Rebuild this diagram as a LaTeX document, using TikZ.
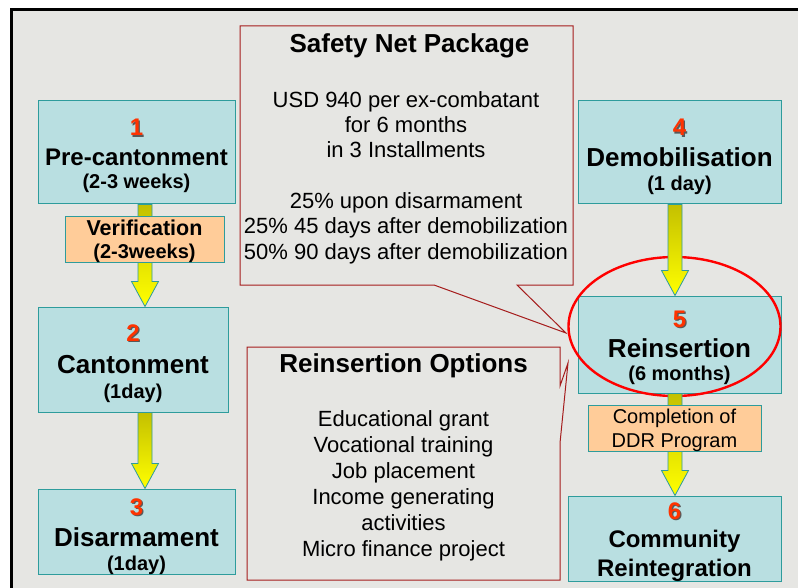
\documentclass[tikz,border=0pt]{standalone}
\usepackage{fontspec}
\setmainfont{Liberation Sans}
\usetikzlibrary{calc}
\definecolor{bggray}{HTML}{E6E6E3}
\definecolor{boxfill}{HTML}{B9DFE1}
\definecolor{boxline}{HTML}{2E9C9C}
\definecolor{peach}{HTML}{FFCC99}
\definecolor{callred}{HTML}{A51C1C}
\definecolor{numred}{HTML}{FF3300}
\definecolor{arrolive}{HTML}{C4C000}
\definecolor{arryellow}{HTML}{FFFF00}
\newcommand\fNum{\fontsize{24}{24}\bfseries\selectfont}
\newcommand\fBig{\fontsize{26}{26}\bfseries\selectfont}
\newcommand\fMid{\fontsize{24}{24}\bfseries\selectfont}
\newcommand\fSub{\fontsize{20}{20}\bfseries\selectfont}
\newcommand\fVer{\fontsize{21.5}{21.5}\bfseries\selectfont}
\newcommand\fNote{\fontsize{20}{20}\selectfont}
\newcommand\fHead{\fontsize{26}{26}\bfseries\selectfont}
\newcommand\fBody{\fontsize{22}{22}\selectfont}
\newcommand\stnum[1]{\makebox[0pt][l]{\hspace{1.2pt}\raisebox{-1.2pt}{\textcolor{black!65}{#1}}}\textcolor{numred}{#1}}
\newcommand\fatarrow[3]{%
  \path[arrowshape] let \p1=(#2.south), \p2=(#3.north) in
    (#1pt-7pt,\y1) -- (#1pt+7pt,\y1) -- (#1pt+7pt,\y2+25pt) -- (#1pt+13.5pt,\y2+25pt)
    -- (#1pt,\y2) -- (#1pt-13.5pt,\y2+25pt) -- (#1pt-7pt,\y2+25pt) -- cycle;}
\begin{document}
\begin{tikzpicture}[x=1pt,y=-1pt,
  stagebox/.style={draw=boxline, fill=boxfill, line width=1pt, rectangle, inner sep=0pt},
  notebox/.style={draw=boxline, fill=peach, line width=1pt, rectangle, inner sep=0pt},
  lbl/.style={anchor=base, inner sep=0pt, text=black},
  callout/.style={draw=callred, line width=1pt, line join=miter},
  arrowshape/.style={draw=boxline, line width=0.8pt, top color=arrolive, bottom color=arryellow},
  ring/.style={draw=red, line width=2.4pt}]
\useasboundingbox (0,0) rectangle (798,588);
\fill[white] (0,0) rectangle (798,588);
\fill[bggray] (10,8) rectangle (798,588);
\draw[line width=3pt] (11.5,588) -- (11.5,9.5) -- (798,9.5);

% callouts
\coordinate (tipA) at (566,333);
\coordinate (tipB) at (568,363);
\draw[callout] (240,26) -- (573,26) -- (573,285) -- (517,285) -- (tipA) -- (434,285) -- (240,285) -- cycle;
\draw[callout] (247,347) -- (560,347) -- (560,386) -- (tipB) -- (560,443) -- (560,580) -- (247,580) -- cycle;

\node[lbl] (sn0) at (409.5,53) {\fHead Safety Net Package};
\node[lbl] (sn1) at (406,107.3) {\fBody USD 940 per ex-combatant};
\node[lbl] (sn2) at (406,132.5) {\fBody for 6 months};
\node[lbl] (sn3) at (406,157.5) {\fBody in 3 Installments};
\node[lbl] (sn4) at (406,208.5) {\fBody 25\% upon disarmament};
\node[lbl] (sn5) at (406,234) {\fBody 25\% 45 days after demobilization};
\node[lbl] (sn6) at (406,259.5) {\fBody 50\% 90 days after demobilization};

\node[lbl] (ro0) at (403.5,372) {\fHead Reinsertion Options};
\node[lbl] (ro1) at (403.5,426) {\fBody Educational grant};
\node[lbl] (ro2) at (403.5,452) {\fBody Vocational training};
\node[lbl] (ro3) at (403.5,478) {\fBody Job placement};
\node[lbl] (ro4) at (403.5,504) {\fBody Income generating};
\node[lbl] (ro5) at (403.5,530) {\fBody activities};
\node[lbl] (ro6) at (403.5,556) {\fBody Micro finance project};

% stage boxes
\node[stagebox, minimum width=197pt, minimum height=103pt] (b1) at (136.5,152.5) {};
\node[stagebox, minimum width=190pt, minimum height=105pt] (b2) at (133,359.5) {};
\node[stagebox, minimum width=197pt, minimum height=85pt]  (b3) at (136.5,531.5) {};
\node[stagebox, minimum width=203pt, minimum height=103pt] (b4) at (679.5,152.5) {};
\node[stagebox, minimum width=203pt, minimum height=97pt]  (b5) at (679.5,344.5) {};
\node[stagebox, minimum width=213pt, minimum height=85pt]  (b6) at (674.5,538.5) {};

\node[lbl] at (136.5,136) {\fNum\stnum{1}};
\node[lbl] at (136.5,165.7) {\fMid Pre-cantonment};
\node[lbl] at (136.5,189) {\fSub (2-3 weeks)};

\node[lbl] at (133,341) {\fNum\stnum{2}};
\node[lbl] at (133,373) {\fBig Cantonment};
\node[lbl] at (133,398) {\fSub (1day)};

\node[lbl] at (136.5,515) {\fNum\stnum{3}};
\node[lbl] at (136.5,546) {\fBig Disarmament};
\node[lbl] at (136.5,570) {\fSub (1day)};

\node[lbl] at (679.5,136) {\fNum\stnum{4}};
\node[lbl] at (679.5,166.7) {\fBig Demobilisation};
\node[lbl] at (679.5,191) {\fSub (1 day)};

\node[lbl] at (679.5,327) {\fNum\stnum{5}};
\node[lbl] at (679.5,357) {\fBig Reinsertion};
\node[lbl] at (679.5,380) {\fSub (6 months)};

\node[lbl] at (674.5,519) {\fNum\stnum{6}};
\node[lbl] at (674.5,547) {\fMid Community};
\node[lbl] at (674.5,576) {\fMid Reintegration};

% highlight ring
\draw[ring] (674.5,326.5) ellipse [x radius=106, y radius=69.5];

% arrows
\fatarrow{145}{b1}{b2}
\fatarrow{145}{b2}{b3}
\fatarrow{675}{b4}{b5}
\fatarrow{675}{b5}{b6}

% note boxes on the arrows
\node[notebox, minimum width=159pt, minimum height=46pt] (ver) at (144.5,240) {};
\node[lbl] at (144.5,236) {\fVer Verification};
\node[lbl] at (144.5,258.5) {\fSub (2-3weeks)};

\node[notebox, minimum width=173pt, minimum height=46pt] (comp) at (674.5,428) {};
\node[lbl] at (674.5,423) {\fNote Completion of};
\node[lbl] at (674.5,447) {\fNote DDR Program};
\end{tikzpicture}
\end{document}
